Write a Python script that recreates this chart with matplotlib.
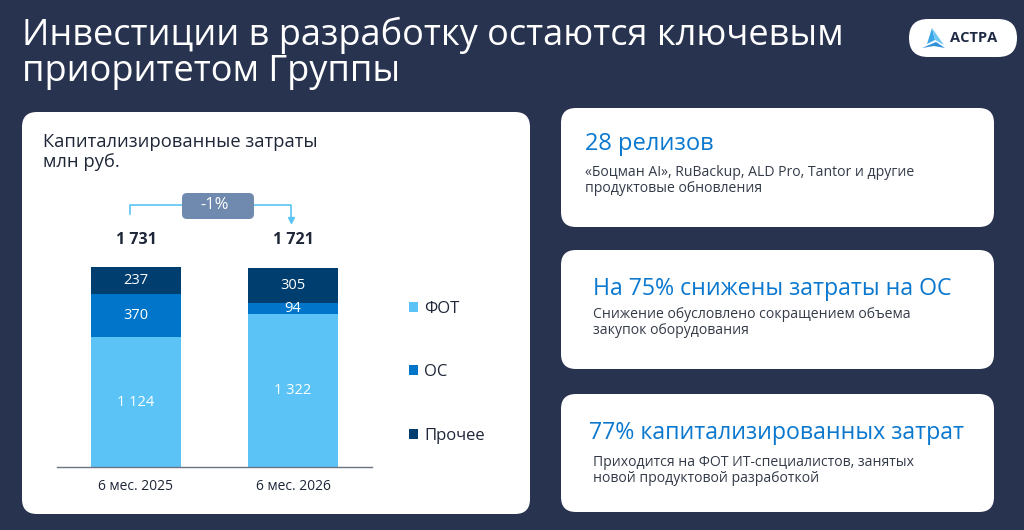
import matplotlib.pyplot as plt
from matplotlib.patches import FancyBboxPatch, Polygon

plt.rcParams['font.family'] = ['Open Sans', 'DejaVu Sans']

# data
periods = ['6 мес. 2025', '6 мес. 2026']
fot = [1124, 1322]
os_vals = [370, 94]
other = [237, 305]
totals = [1731, 1721]
total_labels = ['1 731', '1 721']
fot_labels = ['1 124', '1 322']
change_label = '-1%'
series_names = ['ФОТ', 'ОС', 'Прочее']

BG = '#283350'
DARK = '#1e2638'
BLUE_TXT = '#0b78cf'
C_FOT = '#5bc3f5'
C_OS = '#0075c9'
C_OTHER = '#003e70'

fig = plt.figure(figsize=(10.24, 5.30), dpi=100, facecolor=BG)

# background axes in pixel coords
bg = fig.add_axes([0, 0, 1, 1])
bg.set_xlim(0, 1024)
bg.set_ylim(530, 0)
bg.axis('off')

def card(x0, y0, x1, y1, r=15, fc='white', target=None, z=1):
    target = target or bg
    p = FancyBboxPatch((x0, y0), x1 - x0, y1 - y0,
                       boxstyle=f'round,pad=0,rounding_size={r}',
                       fc=fc, ec='none', transform=bg.transData, zorder=z,
                       clip_on=False)
    target.add_patch(p)

# title
bg.text(22, 35, 'Инвестиции в разработку остаются ключевым', color='white',
        fontsize=26, va='center', ha='left')
bg.text(22, 72, 'приоритетом Группы', color='white',
        fontsize=26, va='center', ha='left')

# logo
card(909, 19, 1017, 57, r=19)
bg.add_patch(Polygon([(932, 28), (927, 44), (935, 40)], closed=True, fc='#3aa6e6', ec='none'))
bg.add_patch(Polygon([(932, 28), (935, 40), (944, 45)], closed=True, fc='#6fc7f3', ec='none'))
bg.add_patch(Polygon([(922, 48), (936, 42), (945, 48), (934, 46)], closed=True, fc='#2f8fd8', ec='none'))
bg.text(950, 38, 'АСТРА', color='#1f2a44', fontsize=10.5, fontweight='bold', va='center', ha='left')

# left card
card(22, 112, 530, 514)
bg.text(43, 142, 'Капитализированные затраты', color=DARK, fontsize=13.2, va='center')
bg.text(43, 162, 'млн руб.', color=DARK, fontsize=13.2, va='center')

# right cards
SUB = '#333a48'
card(561, 108, 994, 227)
bg.text(585, 144, '28 релизов', color=BLUE_TXT, fontsize=17, va='center')
bg.text(585, 172, '«Боцман AI», RuBackup, ALD Pro, Tantor и другие', color=SUB, fontsize=10.1, va='center')
bg.text(585, 188, 'продуктовые обновления', color=SUB, fontsize=10.1, va='center')

card(561, 250, 994, 369)
bg.text(593, 289, 'На 75% снижены затраты на ОС', color=BLUE_TXT, fontsize=16.7, va='center')
bg.text(593, 315, 'Снижение обусловлено сокращением объема', color=SUB, fontsize=10.1, va='center')
bg.text(593, 331, 'закупок оборудования', color=SUB, fontsize=10.1, va='center')

card(561, 394, 994, 512)
bg.text(589, 433, '77% капитализированных затрат', color=BLUE_TXT, fontsize=16.7, va='center')
bg.text(593, 462, 'Приходится на ФОТ ИТ-специалистов, занятых', color=SUB, fontsize=10.1, va='center')
bg.text(593, 478, 'новой продуктовой разработкой', color=SUB, fontsize=10.1, va='center')

# chart axes: baseline at 467 px, 1731 -> 200 px
scale = 200 / 1731
ymax = 2600
ax_h = ymax * scale
ax = fig.add_axes([57 / 1024, (530 - 467) / 530, 315 / 1024, ax_h / 530])
ax.patch.set_alpha(0)
ax.set_ylim(0, ymax)
ax.set_xlim(-0.503, 1.503)

x = [0, 1]
w = 0.573
b1 = ax.bar(x, fot, w, color=C_FOT, label=series_names[0])
bottom2 = [f for f in fot]
b2 = ax.bar(x, os_vals, w, bottom=bottom2, color=C_OS, label=series_names[1])
bottom3 = [f + o for f, o in zip(fot, os_vals)]
b3 = ax.bar(x, other, w, bottom=bottom3, color=C_OTHER, label=series_names[2])

for i in x:
    ax.text(i, fot[i] / 2, fot_labels[i], color='white', ha='center', va='center', fontsize=10.5)
    ax.text(i, fot[i] + os_vals[i] / 2, str(os_vals[i]), color='white', ha='center', va='center', fontsize=10.5)
    ax.text(i, bottom3[i] + other[i] / 2, str(other[i]), color='white', ha='center', va='center', fontsize=10.5)
    ax.text(i, 1965, total_labels[i], color=DARK, ha='center', va='center', fontsize=11.5, fontweight='bold')

# change bracket
yb = 2268
ax.plot([-0.04, -0.04, 0.99, 0.99], [2190, yb, yb, 2150], color='#5bc3f5', lw=1.2, clip_on=False, zorder=2)
ax.plot([0.99], [2140], marker='v', color='#5bc3f5', ms=5, clip_on=False, zorder=2)
card(182, 193, 254, 219, r=5, fc='#7089ae', target=ax, z=4)
ax.text(0.5, yb, change_label, color='white', ha='center', va='center', fontsize=12, zorder=5)

for s in ['top', 'right', 'left']:
    ax.spines[s].set_visible(False)
ax.spines['bottom'].set_color('#6b7280')
ax.spines['bottom'].set_linewidth(1)
ax.set_yticks([])
ax.set_xticks(x)
ax.set_xticklabels(periods, color=DARK, fontsize=10)
ax.tick_params(axis='x', length=0, pad=9)

ax.legend(handles=[b1, b2, b3], loc='upper left', bbox_to_anchor=(394, 286),
          bbox_transform=bg.transData, frameon=False, fontsize=12,
          labelcolor=DARK, handlelength=0.55, handleheight=0.55, handletextpad=0.35,
          labelspacing=2.84)

fig.savefig('out.png', dpi=100, facecolor=BG)
